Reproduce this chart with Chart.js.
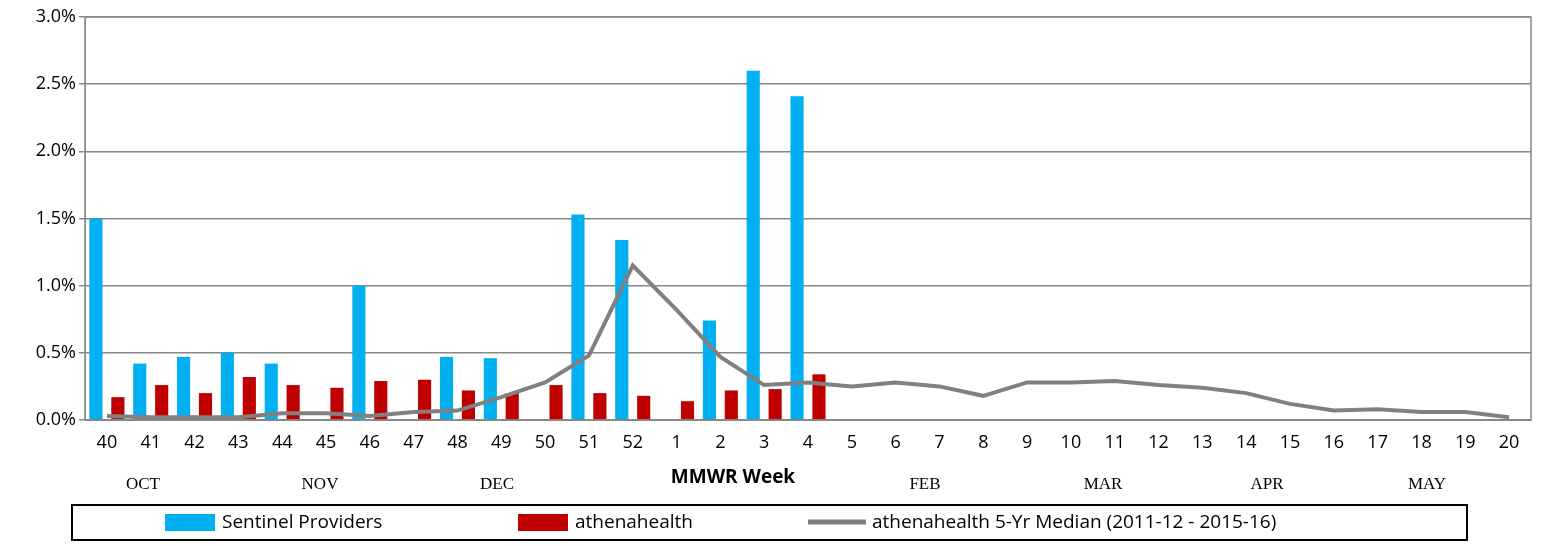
<!DOCTYPE html>
<html><head><meta charset="utf-8">
<script src="https://cdn.jsdelivr.net/npm/chart.js@4"></script>
<style>body{margin:0;background:#fff}</style></head>
<body><canvas id="c" width="1541" height="546"></canvas>
<script>
const semanas = ['40','41','42','43','44','45','46','47','48','49','50','51','52','1','2','3','4','5','6','7','8','9','10','11','12','13','14','15','16','17','18','19','20'];
const centinela = [1.5,0.42,0.47,0.5,0.42,null,1.0,null,0.47,0.46,null,1.53,1.34,null,0.74,2.6,2.41];
const athena = [0.17,0.26,0.2,0.32,0.26,0.24,0.29,0.3,0.22,0.2,0.26,0.2,0.18,0.14,0.22,0.23,0.34];
const mediana = [0.03,0.02,0.02,0.02,0.05,0.05,0.03,0.06,0.07,0.17,0.28,0.48,1.15,0.82,0.47,0.26,0.28,0.25,0.28,0.25,0.18,0.28,0.28,0.29,0.26,0.24,0.2,0.12,0.07,0.08,0.06,0.06,0.02];
const meses = [['OCT',143],['NOV',320],['DEC',497],['FEB',925],['MAR',1103],['APR',1267],['MAY',1427]];

const extras = {
  id: 'extras',
  afterDraw(chart) {
    const ctx = chart.ctx, a = chart.chartArea;
    ctx.save();
    ctx.strokeStyle = '#888'; ctx.lineWidth = 1.5;
    ctx.strokeRect(a.left, a.top, a.right - a.left, a.bottom - a.top);
    ctx.fillStyle = '#000'; ctx.textAlign = 'center'; ctx.textBaseline = 'middle';
    ctx.font = '17px "Liberation Serif"';
    meses.forEach(m => ctx.fillText(m[0], m[1], 485));
    ctx.font = 'bold 19px "Open Sans"';
    ctx.fillText('MMWR Week', 733, 478);
    // leyenda
    ctx.strokeStyle = '#000'; ctx.lineWidth = 2;
    ctx.strokeRect(72, 505, 1395, 35);
    ctx.textAlign = 'left'; ctx.font = '19px "Open Sans"';
    ctx.fillStyle = '#00B0F0'; ctx.fillRect(165, 514, 50, 17);
    ctx.fillStyle = '#000'; ctx.fillText('Sentinel Providers', 222, 523);
    ctx.fillStyle = '#C00000'; ctx.fillRect(518, 514, 50, 17);
    ctx.fillStyle = '#000'; ctx.fillText('athenahealth', 575, 523);
    ctx.strokeStyle = '#808080'; ctx.lineWidth = 5;
    ctx.beginPath(); ctx.moveTo(808, 522); ctx.lineTo(866, 522); ctx.stroke();
    ctx.fillText('athenahealth 5-Yr Median (2011-12 - 2015-16)', 872, 523);
    ctx.restore();
  }
};

new Chart(document.getElementById('c'), {
  data: {
    labels: semanas,
    datasets: [
      { type: 'line', label: 'athenahealth 5-Yr Median (2011-12 - 2015-16)', data: mediana, borderColor: '#808080', borderWidth: 4, pointRadius: 0, tension: 0 },
      { type: 'bar', label: 'Sentinel Providers', data: centinela, backgroundColor: '#00B0F0', barPercentage: 0.6, categoryPercentage: 1 },
      { type: 'bar', label: 'athenahealth', data: athena, backgroundColor: '#C00000', barPercentage: 0.6, categoryPercentage: 1 }
    ]
  },
  options: {
    responsive: false, animation: false,
    layout: { padding: { top: 17, right: 10, bottom: 96, left: 0 } },
    plugins: { legend: { display: false }, tooltip: { enabled: false } },
    scales: {
      x: {
        grid: { display: false },
        border: { color: '#888' },
        ticks: { color: '#000', font: { size: 18, family: 'Open Sans' }, maxRotation: 0, autoSkip: false, padding: 4 },
        afterFit(s) { s.height = 30; }
      },
      y: {
        min: 0, max: 3, 
        grid: { color: '#888', lineWidth: 1.5, drawTicks: true, tickLength: 6 },
        border: { color: '#888' },
        ticks: { stepSize: 0.5, color: '#000', font: { size: 18, family: 'Open Sans' }, callback: v => v.toFixed(1) + '%' },
        afterFit(s) { s.width = 85; }
      }
    }
  },
  plugins: [extras]
});
</script></body></html>
